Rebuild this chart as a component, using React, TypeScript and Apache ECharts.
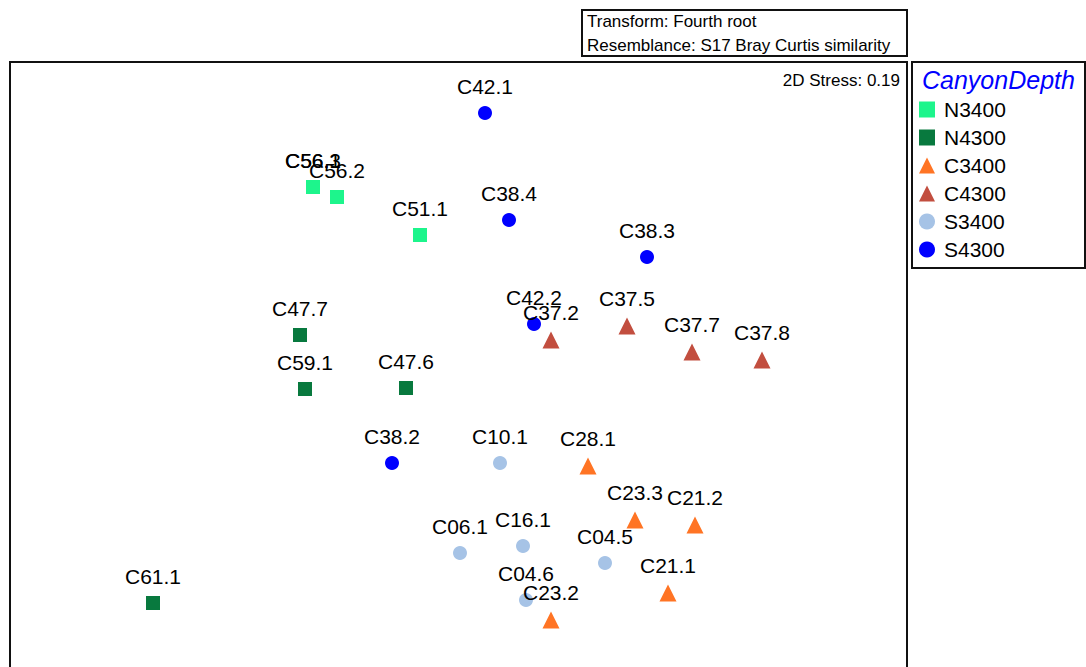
import React, { useEffect, useRef } from "react";
import * as echarts from "echarts";

const groups = ["N3400", "N4300", "C3400", "C4300", "S3400", "S4300"];
const groupColors = ["#1DF58C", "#08793E", "#FF7424", "#C24E3F", "#A6C3E6", "#0000FF"];
const groupSymbols = ["rect", "rect", "triangle", "triangle", "circle", "circle"];
const groupSizes = [14, 14, 17, 17, 14, 14];

const sampleNames: string[][] = [
  ["C56.1", "C56.3", "C56.2", "C51.1"],
  ["C47.7", "C59.1", "C47.6", "C61.1"],
  ["C28.1", "C23.3", "C21.2", "C21.1", "C23.2"],
  ["C37.2", "C37.5", "C37.7", "C37.8"],
  ["C10.1", "C06.1", "C16.1", "C04.5", "C04.6"],
  ["C42.1", "C38.4", "C38.3", "C42.2", "C38.2"],
];
const mdsX: number[][] = [
  [-0.725, -0.725, -0.605, -0.19],
  [-0.79, -0.765, -0.26, -1.525],
  [0.65, 0.885, 1.185, 1.05, 0.465],
  [0.465, 0.845, 1.17, 1.52],
  [0.21, 0.01, 0.325, 0.735, 0.34],
  [0.135, 0.255, 0.945, 0.38, -0.33],
];
const mdsY: number[][] = [
  [0.925, 0.925, 0.875, 0.685],
  [0.185, -0.085, -0.08, -1.155],
  [-0.47, -0.74, -0.765, -1.105, -1.24],
  [0.16, 0.23, 0.1, 0.06],
  [-0.455, -0.905, -0.87, -0.955, -1.14],
  [1.295, 0.76, 0.575, 0.24, -0.455],
];

const stressText = "2D Stress: 0.19";
const headerLines = ["Transform: Fourth root", "Resemblance: S17 Bray Curtis similarity"];
const legendTitle = "CanyonDepth";

const FONT = "'Liberation Sans', Arial, sans-serif";

export default function App() {
  const ref = useRef<HTMLDivElement>(null);
  useEffect(() => {
    document.body.style.margin = "0";
    if (!ref.current) return;
    const chart = echarts.init(ref.current, undefined, { renderer: "svg" });
    const series = groups.map((g, gi) => ({
      name: g,
      type: "scatter",
      symbol: groupSymbols[gi],
      symbolSize: groupSizes[gi],
      itemStyle: { color: groupColors[gi], opacity: 1 },
      label: {
        show: true,
        position: "top",
        distance: 9,
        formatter: "{b}",
        color: "#000",
        fontSize: 21,
        fontFamily: FONT,
      },
      emphasis: { disabled: true },
      data: sampleNames[gi].map((n, i) => ({ name: n, value: [mdsX[gi][i], mdsY[gi][i]] })),
    }));
    chart.setOption({
      animation: false,
      backgroundColor: "#fff",
      grid: {
        show: false,
        left: 10,
        top: 62,
        width: 897,
        height: 605,
      },
      xAxis: { type: "value", min: -2.24, max: 2.245, show: false, splitLine: { show: false } },
      yAxis: { type: "value", min: -1.475, max: 1.55, show: false, splitLine: { show: false } },
      legend: {
        orient: "vertical",
        left: 919,
        top: 99,
        itemWidth: 16,
        itemHeight: 16,
        itemGap: 7,
        padding: 0,
        data: groups,
        textStyle: { fontSize: 21, color: "#000", fontFamily: FONT, padding: [0, 0, 0, 4] },
        selectedMode: false,
      },
      graphic: [
        {
          type: "polyline",
          shape: { points: [[10, 700], [10, 62], [907, 62], [907, 700]] },
          style: { fill: "none", stroke: "#111", lineWidth: 2 },
        },
        {
          type: "rect",
          shape: { x: 912, y: 62, width: 173, height: 206 },
          style: { fill: "none", stroke: "#111", lineWidth: 2 },
        },
        {
          type: "text",
          x: 922,
          y: 80,
          style: {
            text: legendTitle,
            fill: "#0000FF",
            font: `italic 25px ${FONT}`,
            textVerticalAlign: "middle",
          },
        },
        {
          type: "rect",
          shape: { x: 582, y: 10, width: 325, height: 46 },
          style: { fill: "none", stroke: "#111", lineWidth: 2 },
        },
        {
          type: "text",
          x: 587,
          y: 21,
          style: { text: headerLines[0], fill: "#000", font: `17px ${FONT}`, textVerticalAlign: "middle" },
        },
        {
          type: "text",
          x: 587,
          y: 45,
          style: { text: headerLines[1], fill: "#000", font: `17px ${FONT}`, textVerticalAlign: "middle" },
        },
        {
          type: "text",
          x: 900,
          y: 80,
          style: {
            text: stressText,
            fill: "#000",
            font: `17px ${FONT}`,
            textAlign: "right",
            textVerticalAlign: "middle",
          },
        },
      ],
      series,
    });
    return () => chart.dispose();
  }, []);
  return <div ref={ref} style={{ width: 1086, height: 667 }} />;
}
